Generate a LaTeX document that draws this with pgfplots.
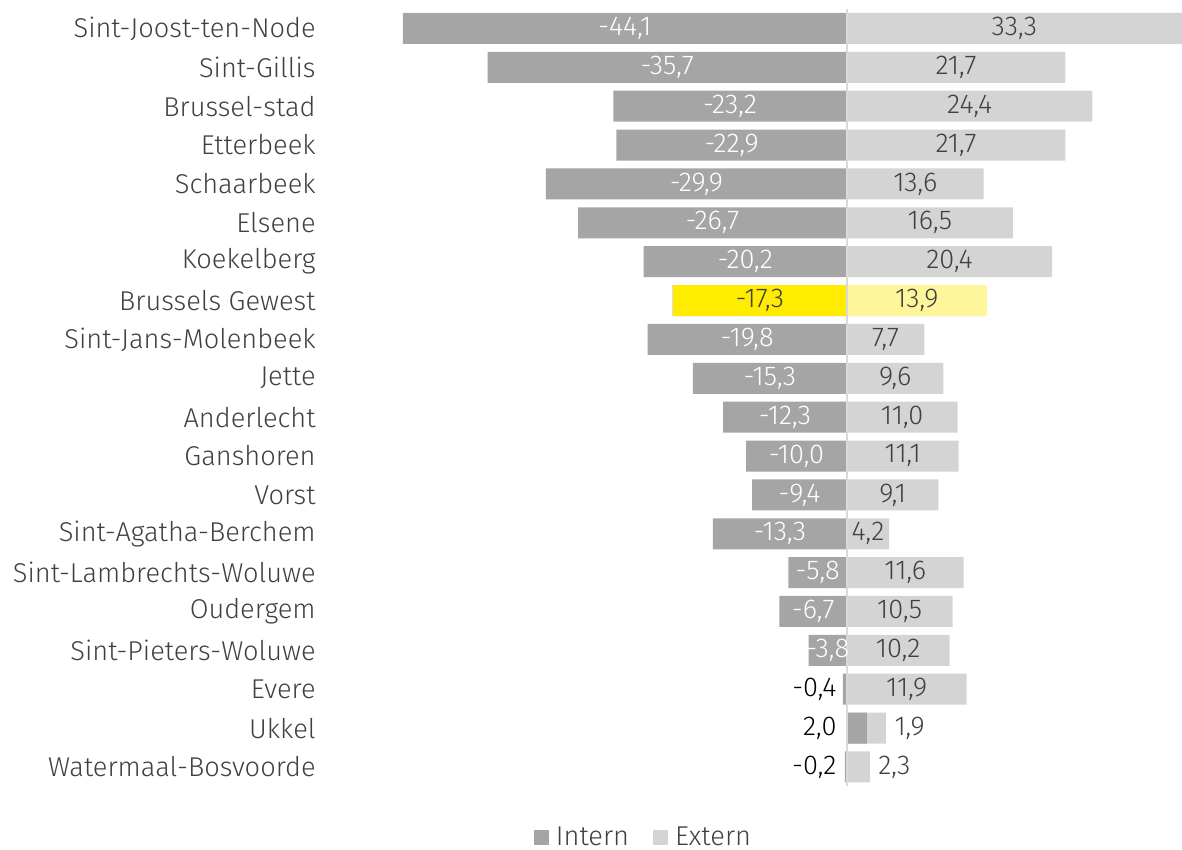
\documentclass[border=0pt]{standalone}
\usepackage{fontspec}
\setmainfont{Fira Sans Light}
\usepackage{pgfplots}
\usepackage{pgfplotstable}
\pgfplotsset{compat=1.18}
\definecolor{internc}{HTML}{A5A5A5}
\definecolor{externc}{HTML}{D4D4D4}
\definecolor{ylw}{HTML}{FFEC00}
\definecolor{lylw}{HTML}{FFF59A}
\definecolor{txt}{HTML}{404040}
\definecolor{zline}{HTML}{D9D9D9}

\pgfplotstableread{
y intern extern
0 -44.1 33.3
1 -35.7 21.7
2 -23.2 24.4
3 -22.9 21.7
4 -29.9 13.6
5 -26.7 16.5
6 -20.2 20.4
7 -17.3 13.9
8 -19.8 7.7
9 -15.3 9.6
10 -12.3 11.0
11 -10.0 11.1
12 -9.4 9.1
13 -13.3 4.2
14 -5.8 11.6
15 -6.7 10.5
16 -3.8 10.2
17 -0.4 11.9
18 2.0 1.9
19 -0.2 2.3
}\datatable

\newcommand\fmtnum{\pgfmathprintnumber[fixed,fixed zerofill,precision=1,use comma,assume math mode=true]{\pgfplotspointmeta}}

\pgfplotsset{
  barsty/.style={xbar, bar width=15.5pt, bar shift=0pt, draw=none},
  lblsty/.style={draw=none, mark=none, forget plot, nodes near coords={\fmtnum},
     every node near coord/.append style={inner sep=0pt}},
}

\begin{document}
\begin{tikzpicture}[font=\fontsize{13.6}{15}\selectfont]
\begin{axis}[
  at={(0,0)}, anchor=south west,
  scale only axis, width=389.5pt, height=388.7pt,
  xmin=-44.1, xmax=33.3, ymin=-0.5, ymax=19.5, y dir=reverse,
  axis line style={draw=none},
  xtick=\empty, ytick={0,...,19}, major tick length=0pt,
  yticklabels={Sint-Joost-ten-Node,Sint-Gillis,Brussel-stad,Etterbeek,Schaarbeek,Elsene,Koekelberg,Brussels Gewest,Sint-Jans-Molenbeek,Jette,Anderlecht,Ganshoren,Vorst,Sint-Agatha-Berchem,Sint-Lambrechts-Woluwe,Oudergem,Sint-Pieters-Woluwe,Evere,Ukkel,Watermaal-Bosvoorde},
  yticklabel style={anchor=east, inner sep=0pt, xshift=-43.5pt, text=txt},
  clip=false,
  legend columns=2,
  legend image code/.code={\fill[#1] (0pt,-3.7pt) rectangle (7.4pt,3.7pt); \path (9pt,0pt);},
  legend style={draw=none, at={(axis description cs:0.31,-0.066)}, anchor=center,
    text=txt, font=\fontsize{13.6}{15}\selectfont,
    /tikz/every even column/.append style={column sep=10pt}},
]
\addlegendimage{fill=internc, draw=none}\addlegendentry{Intern}
\addlegendimage{fill=externc, draw=none}\addlegendentry{Extern}

% bars
\addplot[barsty, fill=externc, forget plot] table[x expr={\thisrow{extern}+max(\thisrow{intern},0)}, y=y]{\datatable};
\addplot[barsty, fill=internc, forget plot] table[x=intern, y=y]{\datatable};
\addplot[barsty, fill=lylw, forget plot] coordinates {(13.9,7)};
\addplot[barsty, fill=ylw, forget plot] coordinates {(-17.3,7)};

\draw[zline, line width=1pt] (axis cs:0,-0.5) -- (axis cs:0,19.5);

% intern labels
\addplot[lblsty, point meta=\thisrow{intern}, restrict y to domain=0:6,
  every node near coord/.append style={anchor=center, text=white}]
  table[x expr={\thisrow{intern}/2}, y=y]{\datatable};
\addplot[lblsty, point meta=\thisrow{intern}, restrict y to domain=8:16,
  every node near coord/.append style={anchor=center, text=white}]
  table[x expr={\thisrow{intern}/2}, y=y]{\datatable};
\addplot[lblsty, point meta=\thisrow{intern}, restrict y to domain=7:7,
  every node near coord/.append style={anchor=center, text=txt}]
  table[x expr={\thisrow{intern}/2}, y=y]{\datatable};
\addplot[lblsty, point meta=\thisrow{intern}, restrict y to domain=17:19,
  every node near coord/.append style={anchor=east, text=black, xshift=-5pt}]
  table[x expr=0, y=y]{\datatable};
% extern labels
\addplot[lblsty, point meta=\thisrow{extern}, restrict y to domain=0:17,
  every node near coord/.append style={anchor=center, text=txt}]
  table[x expr={max(\thisrow{intern},0)+\thisrow{extern}/2}, y=y]{\datatable};
\addplot[lblsty, point meta=\thisrow{extern}, restrict y to domain=18:19,
  every node near coord/.append style={anchor=west, text=txt, xshift=4pt}]
  table[x expr={max(\thisrow{intern},0)+\thisrow{extern}}, y=y]{\datatable};
\end{axis}
\pgfresetboundingbox
\path[use as bounding box] (-201.5pt,-31.75pt) rectangle (389.5pt,393.2pt);
\end{tikzpicture}
\end{document}
